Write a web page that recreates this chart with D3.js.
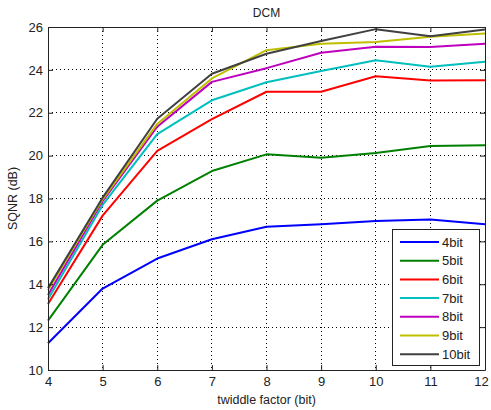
<!DOCTYPE html>
<html>
<head>
<meta charset="utf-8">
<script src="https://cdn.jsdelivr.net/npm/d3@7"></script>
<style>
  html, body { margin: 0; padding: 0; background: #fff; }
  svg { display: block; }
  text { font-family: "Liberation Sans", Arial, sans-serif; fill: #222; }
</style>
</head>
<body>
<svg id="chart" width="491" height="410"></svg>
<script>
// twiddle factor bit widths (x axis)
const twiddleBits = [4, 5, 6, 7, 8, 9, 10, 11, 12];
// SQNR (dB) per data bit width
const sqnr4  = [11.25, 13.8, 15.2, 16.1, 16.68, 16.8, 16.95, 17.02, 16.8];
const sqnr5  = [12.3, 15.84, 17.9, 19.28, 20.06, 19.9, 20.12, 20.45, 20.48];
const sqnr6  = [13.08, 17.2, 20.22, 21.7, 22.98, 22.98, 23.7, 23.5, 23.52];
const sqnr7  = [13.3, 17.7, 21.0, 22.58, 23.42, 23.95, 24.45, 24.15, 24.38];
const sqnr8  = [13.5, 17.88, 21.35, 23.44, 24.08, 24.8, 25.08, 25.07, 25.22];
const sqnr9  = [13.72, 17.96, 21.48, 23.6, 24.92, 25.22, 25.3, 25.55, 25.7];
const sqnr10 = [13.82, 18.04, 21.72, 23.82, 24.75, 25.35, 25.9, 25.57, 25.88];
const seriesNames = ["4bit", "5bit", "6bit", "7bit", "8bit", "9bit", "10bit"];
const seriesColors = ["#0000ff", "#008000", "#ff0000", "#00bfbf", "#bf00bf", "#bfbf00", "#404040"];
const xTicks = [4, 5, 6, 7, 8, 9, 10, 11, 12];
const yTicks = [10, 12, 14, 16, 18, 20, 22, 24, 26];

const series = [sqnr4, sqnr5, sqnr6, sqnr7, sqnr8, sqnr9, sqnr10].map((vals, i) => ({
  name: seriesNames[i],
  color: seriesColors[i],
  points: vals.map((v, j) => [twiddleBits[j], v])
}));

const svg = d3.select("#chart");
const plotLeft = 48, plotRight = 485, plotTop = 27, plotBottom = 370;

const x = d3.scaleLinear().domain([4, 12]).range([plotLeft, plotRight]);
const y = d3.scaleLinear().domain([10, 26]).range([plotBottom, plotTop]);

// dotted grid
const grid = svg.append("g");
grid.selectAll(".gx").data(xTicks.slice(1, -1)).join("line")
  .attr("x1", d => x(d)).attr("x2", d => x(d))
  .attr("y1", plotTop).attr("y2", plotBottom)
  .attr("stroke", "#000").attr("stroke-width", 1)
  .attr("stroke-dasharray", "1,3").attr("shape-rendering", "crispEdges");
grid.selectAll(".gy").data(yTicks.slice(1, -1)).join("line")
  .attr("x1", plotLeft).attr("x2", plotRight)
  .attr("y1", d => y(d)).attr("y2", d => y(d))
  .attr("stroke", "#000").attr("stroke-width", 1)
  .attr("stroke-dasharray", "1,3").attr("shape-rendering", "crispEdges");

// series lines
const line = d3.line().x(d => x(d[0])).y(d => y(d[1]));
svg.append("g").selectAll("path").data(series).join("path")
  .attr("d", d => line(d.points))
  .attr("fill", "none")
  .attr("stroke", d => d.color)
  .attr("stroke-width", 2)
  .attr("stroke-linejoin", "round");

// axes with inward ticks, boxed
const tickLen = 5;
const axB = svg.append("g").attr("transform", `translate(0,${plotBottom})`)
  .call(d3.axisBottom(x).tickValues(xTicks).tickSizeInner(-tickLen).tickSizeOuter(0).tickPadding(7).tickFormat(d3.format("d")));
const axT = svg.append("g").attr("transform", `translate(0,${plotTop})`)
  .call(d3.axisTop(x).tickValues(xTicks).tickSizeInner(-tickLen).tickSizeOuter(0).tickFormat(""));
const axL = svg.append("g").attr("transform", `translate(${plotLeft},0)`)
  .call(d3.axisLeft(y).tickValues(yTicks).tickSizeInner(-tickLen).tickSizeOuter(0).tickPadding(5).tickFormat(d3.format("d")));
const axR = svg.append("g").attr("transform", `translate(${plotRight},0)`)
  .call(d3.axisRight(y).tickValues(yTicks).tickSizeInner(-tickLen).tickSizeOuter(0).tickFormat(""));
[axB, axT, axL, axR].forEach(a => {
  a.select(".domain").attr("stroke", "#222");
  a.selectAll("line").attr("stroke", "#222");
  a.selectAll("text").attr("font-size", 13).attr("font-family", "\"Liberation Sans\", Arial, sans-serif").attr("fill", "#222");
});
// keep the last x tick label inside the canvas
axB.selectAll(".tick text").filter(d => d === 12).attr("dx", -4);

// title and axis labels
svg.append("text").attr("x", (plotLeft + plotRight) / 2).attr("y", 17)
  .attr("text-anchor", "middle").attr("font-size", 12).text("DCM");
svg.append("text").attr("x", (plotLeft + plotRight) / 2).attr("y", 404)
  .attr("text-anchor", "middle").attr("font-size", 12.5).text("twiddle factor (bit)");
svg.append("text")
  .attr("transform", `translate(17,${(plotTop + plotBottom) / 2}) rotate(-90)`)
  .attr("text-anchor", "middle").attr("font-size", 12.5).text("SQNR (dB)");

// legend
const lg = svg.append("g").attr("transform", "translate(392,229)");
lg.append("rect").attr("width", 87).attr("height", 136)
  .attr("fill", "#fff").attr("stroke", "#222").attr("stroke-width", 1)
  .attr("shape-rendering", "crispEdges");
const rows = lg.selectAll("g").data(series).join("g")
  .attr("transform", (d, i) => `translate(0,${13 + i * 18.7})`);
rows.append("line").attr("x1", 8).attr("x2", 47).attr("y1", 0).attr("y2", 0)
  .attr("stroke", d => d.color).attr("stroke-width", 2);
rows.append("text").attr("x", 50).attr("y", 4.5).attr("font-size", 13).text(d => d.name);
</script>
</body>
</html>
